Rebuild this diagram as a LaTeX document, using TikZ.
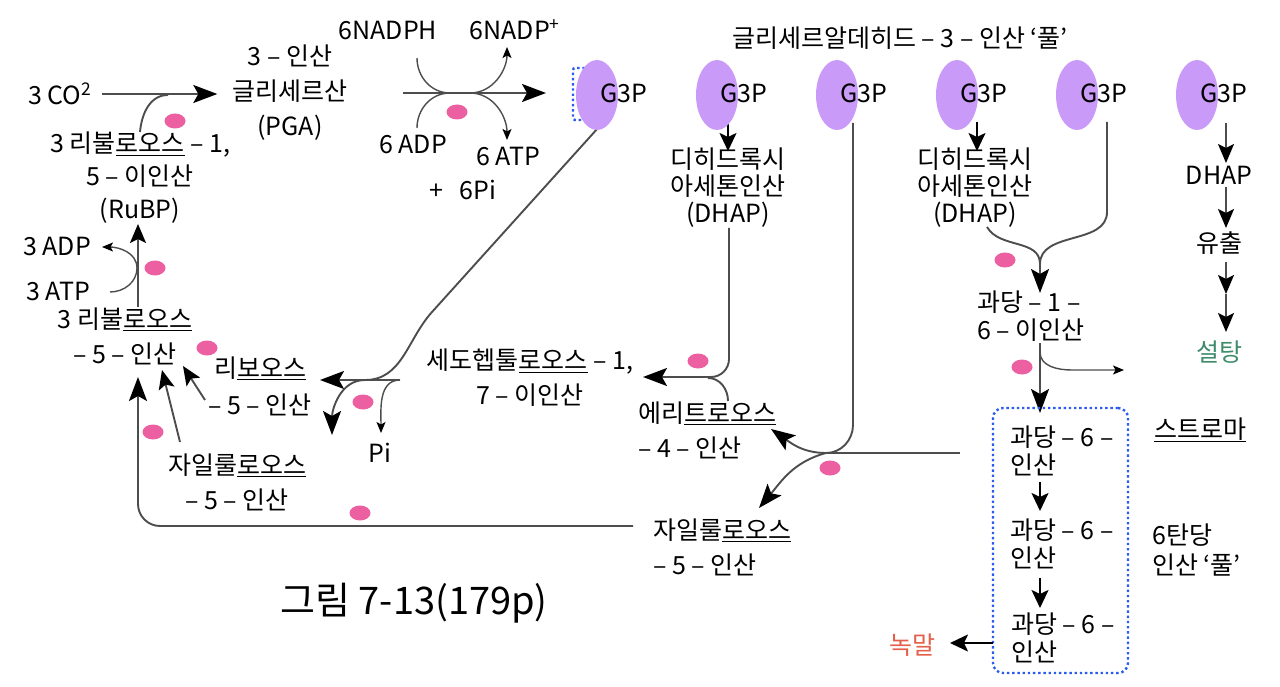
\documentclass[tikz,border=0pt]{standalone}
\usepackage{fontspec}
\setmainfont{Noto Sans CJK KR}
\usetikzlibrary{arrows.meta,shapes.geometric,calc}
\pgfdeclarelayer{bg}
\pgfsetlayers{bg,main}
\definecolor{lav}{HTML}{C99AF7}
\definecolor{pinkd}{HTML}{EC5FA0}
\definecolor{lgray}{HTML}{4D4D4D}
\definecolor{dblue}{HTML}{2B5BF0}
\definecolor{sgreen}{HTML}{3F8C6B}
\definecolor{sred}{HTML}{E5604A}
\newcommand\ulk[1]{\setbox0=\hbox{#1}\rlap{\rule[-3pt]{\wd0}{1.3pt}}\box0\relax}
\begin{document}
\begin{tikzpicture}[x=1pt,y=-1pt,
  lbl/.style={font=\fontsize{25}{35}\selectfont, align=center, inner sep=0pt},
  tlbl/.style={font=\fontsize{25}{27}\selectfont, align=center, inner sep=0pt},
  g3p/.style={ellipse, fill=lav, minimum width=42pt, minimum height=70pt, inner sep=0pt},
  pdot/.style={ellipse, fill=pinkd, minimum width=21pt, minimum height=15pt, inner sep=0pt},
  gl/.style={draw=lgray, line width=1.9pt},
  bigarr/.style={gl, -{Stealth[length=24pt,width=18pt,inset=5pt,color=black]}},
  medarr/.style={gl, -{Stealth[length=19pt,width=16pt,inset=4pt,color=black]}},
  medarrb/.style={draw=black, line width=2pt, -{Stealth[length=18pt,width=17pt,inset=4pt,color=black]}},
  smarr/.style={draw=lgray, line width=1.4pt, -{Stealth[length=11pt,width=9pt,inset=2.5pt,color=black]}},
  blk/.style={draw=dblue, line width=2.4pt, dash pattern=on 2.4pt off 2.8pt}
]
\useasboundingbox (0,0) rectangle (1280,687);

% ---------- texts ----------
\node[lbl] (co2) at (60,94) {3 CO\textsuperscript{2}};
\node[lbl] (pga) at (290,93) {3 – 인산\\글리세르산\\(PGA)};
\node[lbl, font=\fontsize{25}{33}\selectfont] (rubp) at (140,178) {3 리불\ulk{로오스} – 1,\\5 – 이인산\\(RuBP)};
\node[lbl] (adp3) at (57,247) {3 ADP};
\node[lbl] (atp3) at (58,291) {3 ATP};
\node[lbl] (ru5p) at (125,336) {3 리불\ulk{로오스}\\– 5 – 인산};
\node[lbl, font=\fontsize{25}{37}\selectfont] (r5p) at (260,386) {리\ulk{보오스}\\– 5 – 인산};
\node[lbl] (x5pL) at (237,482) {자일룰\ulk{로오스}\\– 5 – 인산};
\node[lbl] (nadph) at (388,31) {6NADPH};
\node[lbl] (nadp) at (515,30) {6NADP\textsuperscript{+}};
\node[lbl] (adp6) at (413,145) {6 ADP};
\node[lbl] (atp6) at (508,157) {6 ATP};
\node[lbl] (pi6) at (463,190) {+\hspace{16pt}6Pi};
\node[lbl] (pi) at (380,453) {Pi};
\node[lbl] (s7p) at (530,378) {세도헵툴\ulk{로오스} – 1,\\7 – 이인산};
\node[lbl, align=left, anchor=west] (e4p) at (638,430) {에리\ulk{트로오스}\\– 4 – 인산};
\node[lbl, align=left, anchor=west] (x5pR) at (653,547) {자일룰\ulk{로오스}\\– 5 – 인산};
\node[lbl] (title) at (900,38) {글리세르알데히드 – 3 – 인산 ‘풀’};
\node[tlbl] (dhap1) at (728,188) {디히드록시\\아세톤인산\\(DHAP)};
\node[tlbl] (dhap2) at (975,188) {디히드록시\\아세톤인산\\(DHAP)};
\node[lbl] (dhap3) at (1219,175) {DHAP};
\node[lbl] (efflux) at (1219,243) {유출};
\node[lbl, text=sgreen] (sucrose) at (1219,352) {설탕};
\node[tlbl, font=\fontsize{25}{28}\selectfont, align=left, anchor=west] (fbp) at (977,316) {과당 – 1 –\\6 – 이인산};
\node[tlbl, font=\fontsize{25}{28}\selectfont, align=left, anchor=west] (f6p1) at (1010,451) {과당 – 6 –\\인산};
\node[tlbl, font=\fontsize{25}{28}\selectfont, align=left, anchor=west] (f6p2) at (1010,544) {과당 – 6 –\\인산};
\node[tlbl, font=\fontsize{25}{28}\selectfont, align=left, anchor=west] (f6p3) at (1011,638) {과당 – 6 –\\인산};
\node[lbl, text=sred] (starch) at (912,645) {녹말};
\node[lbl] (stroma) at (1200,430) {\ulk{스트로마}};
\node[lbl, font=\fontsize{25}{30}\selectfont, align=left, anchor=west] (hexpool) at (1152,550) {6탄당\\인산 ‘풀’};
\node[font=\fontsize{38}{42}\selectfont, inner sep=0pt] (cap) at (414,603) {그림 7-13(179p)};

% ---------- G3P ellipses ----------
\foreach \i/\x in {1/597,2/717,3/837,4/957,5/1077,6/1197}{
  \node[g3p] (g\i) at (\x,95) {};
  \node[lbl] (gt\i) at (\x+27,93) {G3P};
}

% ---------- pink dots ----------
\foreach \i/\p in {1/{(175,121)},2/{(457,112)},3/{(155,268)},4/{(207,348)},5/{(153,432)},6/{(363,402)},7/{(360,513)},8/{(698,361)},9/{(830,468)},10/{(1005,260)},11/{(1022,367)}}{
  \node[pdot] (pd\i) at \p {};
}

% ---------- connectors (under the nodes) ----------
\begin{pgfonlayer}{bg}
\fill[white] (0,0) rectangle (1280,687);
% free-end coordinates
\coordinate (j1) at (168,95);
\coordinate (na) at (403,93);
\coordinate (nb) at (546,93);
\coordinate (nu1) at (417,58);
\coordinate (nu2) at (417,128);
\coordinate (nm1) at (450,93);
\coordinate (nm2) at (470,93);
\coordinate (ntip1) at (507,47);
\coordinate (ntip2) at (507,140);
\coordinate (atpend) at (110,292);
\coordinate (atpmid) at (137,268);
\coordinate (adptip) at (102,247);
\coordinate (g1s) at (598,128);
\coordinate (dg) at (432,312);
\coordinate (jr) at (365,380);
\coordinate (hr) at (400,380);
\coordinate (r5tip) at (320,380);
\coordinate (dtip) at (332,435);
\coordinate (pitip) at (381,433);
\coordinate (g2s) at (728,122);
\coordinate (dh1tip) at (728,151);
\coordinate (dh1b) at (729,228);
\coordinate (s7tip) at (643,377);
\coordinate (e4s) at (728,401);
\coordinate (e4m) at (708,378);
\coordinate (g3s) at (853,123);
\coordinate (g3b) at (853,425);
\coordinate (jx) at (826,453);
\coordinate (hx) at (960,453);
\coordinate (e4tip) at (771,429);
\coordinate (x5tip) at (759,508);
\coordinate (x5s) at (633,526);
\coordinate (ru5tip) at (138,377);
\coordinate (xl1) at (180,442);
\coordinate (xl1t) at (162,370);
\coordinate (xl2) at (205,400);
\coordinate (xl2t) at (183,366);
\coordinate (g4s) at (977,122);
\coordinate (dh2tip) at (977,151);
\coordinate (dh2b) at (987,227);
\coordinate (g5s) at (1107,122);
\coordinate (g5b) at (1107,212);
\coordinate (jf) at (1040,264);
\coordinate (jftip) at (1040,293);
\coordinate (fb) at (1040,343);
\coordinate (fbtip) at (1040,413);
\coordinate (fbr) at (1040,352);
\coordinate (fbr2) at (1072,370);
\coordinate (fbrtip) at (1124,370);
\coordinate (b1) at (1040,482);
\coordinate (b1t) at (1040,511);
\coordinate (b2) at (1040,578);
\coordinate (b2t) at (1040,608);
\coordinate (bs) at (993,643);
\coordinate (bst) at (950,643);
\coordinate (c1) at (1226,123);
\coordinate (c1t) at (1226,163);
\coordinate (c2) at (1226,187);
\coordinate (c2t) at (1226,228);
\coordinate (c3) at (1226,262);
\coordinate (c3t) at (1226,294);
\coordinate (c4t) at (1226,332);

% CO2 -> PGA
\draw[bigarr] ([xshift=10pt]co2.east) -- ([xshift=-15pt]pga.west |- co2.east);
\draw[gl] (rubp.north) to[out=85,in=180] (j1);
\draw[medarr] (ru5p.north -| ru5tip) -- (rubp.south -| ru5tip);
\draw[smarr] (atpend) to[out=0,in=-90] (atpmid) to[out=90,in=0] (adptip);

% NADPH / ATP
\draw[bigarr] (na) -- (nb);
\draw[gl, line width=1.4pt] (nu1) to[out=-90,in=180] (nm1);
\draw[gl, line width=1.4pt] (nu2) to[out=90,in=180] (nm1);
\draw[smarr] (nm2) to[out=0,in=-90] (ntip1);
\draw[smarr] (nm2) to[out=0,in=90] (ntip2);

% small blue bracket at first G3P
\draw[blk, rounded corners=2pt] (590,68) -- (573,68) -- (573,120) -- (590,120);

% G3P -> ribose-5-P and Pi
\draw[gl] (g1s) -- (dg) to[out=-132,in=0] (jr);
\draw[bigarr] (hr) -- (r5tip);
\draw[bigarr] (jr) to[out=180,in=90] (dtip);
\draw[smarr] (hr) to[out=180,in=90] (pitip);

% G3P -> DHAP -> S7P
\draw[medarrb] (g2s) -- (dh1tip);
\draw[bigarr, rounded corners=18pt] (dh1b) |- (s7tip);
\draw[gl] (e4s) to[out=90,in=0] (e4m);

% G3P long line -> E4P / X5P
\draw[gl] (g3s) -- (g3b) to[out=-90,in=0] (jx);
\draw[gl] (hx) -- (jx);
\draw[bigarr] (jx) to[out=180,in=-35] (e4tip);
\draw[bigarr] (jx) to[out=195,in=50] (x5tip);

% bottom return line
\draw[bigarr, rounded corners=22pt] (x5s) -| (ru5tip);
\draw[medarr] (xl1) -- (xl1t);
\draw[medarr] (xl2) -- (xl2t);

% right side
\draw[medarrb] (g4s) -- (dh2tip);
\draw[gl] (dh2b) to[out=-60,in=90] (jf);
\draw[gl] (g5s) -- (g5b) to[out=-90,in=90] (jf);
\draw[bigarr] (jf) -- (jftip);
\draw[bigarr] (fb) -- (fbtip);
\draw[smarr] (fbr) to[out=-90,in=180] (fbr2) -- (fbrtip);

% hexose phosphate pool box
\node[blk, rounded corners=10pt, minimum width=135pt, minimum height=265pt, inner sep=0pt] (box) at (1060.5,540.5) {};
\draw[medarrb] (b1) -- (b1t);
\draw[medarrb] (b2) -- (b2t);
\draw[medarrb] (bs) -- (bst);

% far right column
\draw[medarr] (c1) -- (c1t);
\draw[medarr] (c2) -- (c2t);
\draw[medarr] (c3) -- (c3t);
\draw[medarr] (c3t) -- (c4t);
\end{pgfonlayer}
\end{tikzpicture}
\end{document}
